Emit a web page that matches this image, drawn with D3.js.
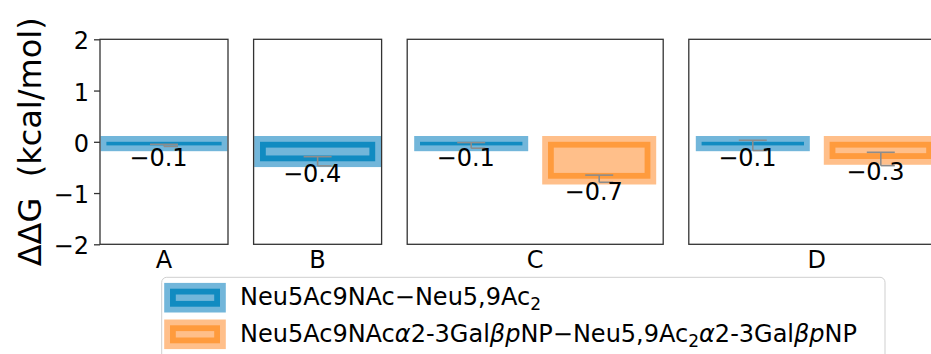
<html>
<head>
<meta charset="utf-8">
<style>
  body { margin: 0; background: white; }
  text { font-family: "DejaVu Sans", sans-serif; }
</style>
</head>
<body>
<script src="https://cdn.jsdelivr.net/npm/d3@7"></script>
<script>
// data
const panels = ["A", "B", "C", "D"]
const blueValues = [-0.07, -0.38, -0.07, -0.07]
const blueErrors = [0.02, 0.09, 0.055, 0.1]
const orangeValues = [null, null, -0.72, -0.335]
const orangeErrors = [null, null, 0.07, 0.13]
const yTicks = [-2, -1, 0, 1, 2]

const blue = {light: "#72b6da", dark: "#118bc1"}
const orange = {light: "#ffbf8a", dark: "#ff9b3d"}

const W = 931, H = 354
const svg = d3.select("body").append("svg").attr("width", W).attr("height", H)

const y = d3.scaleLinear().domain([-2, 2]).range([244.3, 39.3])
const unit = 128, gap = 25.6
const sw = 11.6 // thick bar edge

// bar = light outer edge, dark overlap, light inside
function drawBar(g, x0, x1, y0, y1, c) {
  const h = sw / 2, w = x1 - x0, ht = y1 - y0
  g.append("rect").attr("x", x0 - h).attr("y", y0 - h).attr("width", w + sw).attr("height", ht + sw).attr("fill", c.light)
  g.append("rect").attr("x", x0).attr("y", y0).attr("width", w).attr("height", ht).attr("fill", c.dark)
  if (w > sw && ht > sw) {
    g.append("rect").attr("x", x0 + h).attr("y", y0 + h).attr("width", w - sw).attr("height", ht - sw).attr("fill", c.light)
  }
}

function drawErr(g, cx, v, e) {
  const top = y(v + e), bot = y(v - e)
  g.append("line").attr("x1", cx).attr("x2", cx).attr("y1", top).attr("y2", bot)
  g.append("line").attr("x1", cx - 14).attr("x2", cx + 14).attr("y1", top).attr("y2", top)
  g.append("line").attr("x1", cx).attr("x2", cx + 14).attr("y1", bot).attr("y2", bot)
}

const fmt = d3.format(".1f")
let left = 100
panels.forEach(function(p, i) {
  const series = [{v: blueValues[i], e: blueErrors[i], c: blue}]
  if (orangeValues[i] !== null) series.push({v: orangeValues[i], e: orangeErrors[i], c: orange})
  const n = series.length
  const x = d3.scaleLinear().domain([-0.5, n - 0.5]).range([left, left + n * unit])
  const bw = n == 1 ? 0.9 : 0.8

  svg.append("clipPath").attr("id", "clip" + i).append("rect")
    .attr("x", left).attr("y", y(2)).attr("width", n * unit).attr("height", y(-2) - y(2))
  const g = svg.append("g").attr("clip-path", `url(#clip${i})`)

  series.forEach(function(s, j) {
    drawBar(g, x(j - bw / 2), x(j + bw / 2), y(0), y(s.v), s.c)
  })
  const eg = svg.append("g").attr("stroke", "#8c8c8c").attr("stroke-width", 1.6)
  series.forEach(function(s, j) { drawErr(eg, x(j), s.v, s.e) })

  // frame
  svg.append("rect").attr("x", left).attr("y", y(2)).attr("width", n * unit).attr("height", y(-2) - y(2))
    .attr("fill", "none").attr("stroke", "#333").attr("stroke-width", 1.3)

  series.forEach(function(s, j) {
    svg.append("text").attr("x", x(j) - 5.5).attr("y", y(s.v) + 21)
      .attr("text-anchor", "middle").attr("font-size", 24).attr("fill", "#000").text(fmt(s.v))
  })

  svg.append("text").attr("x", x((n - 1) / 2)).attr("y", 268)
    .attr("text-anchor", "middle").attr("font-size", 24).text(p)

  left += n * unit + gap
})

// y axis on the first panel
const yAxis = svg.append("g").attr("transform", "translate(100,0)")
  .call(d3.axisLeft(y).tickValues(yTicks).tickSize(6).tickPadding(5).tickFormat(d3.format("d")))
yAxis.select(".domain").remove()
yAxis.selectAll("line").attr("stroke", "#333").attr("stroke-width", 1.3)
yAxis.selectAll("text").attr("font-size", 24).attr("font-family", "DejaVu Sans").attr("fill", "#000").attr("dy", "0.4em")

svg.append("text").attr("transform", "translate(41,141.8) rotate(-90)")
  .attr("text-anchor", "middle").attr("font-size", 32).text("ΔΔG\u00a0\u00a0(kcal/mol)")

// legend
const lg = svg.append("g")
lg.append("rect").attr("x", 161.7).attr("y", 277.3).attr("width", 723.3).attr("height", 100).attr("rx", 5)
  .attr("fill", "white").attr("fill-opacity", 0.8).attr("stroke", "#cfcfcf").attr("stroke-width", 1)

const legendRows = [
  {c: blue, parts: [["Neu5Ac9NAc−Neu5,9Ac", ""], ["2", "sub"]]},
  {c: orange, parts: [["Neu5Ac9NAc", ""], ["α", "it"], ["2-3Gal", ""], ["βp", "it"], ["NP−Neu5,9Ac", ""], ["2", "sub"], ["α", "it"], ["2-3Gal", ""], ["βp", "it"], ["NP", ""]]}
]
legendRows.forEach(function(r, i) {
  const yy = 288.7 + i * 36.6
  drawBar(lg, 170, 220, yy, yy + 18, r.c)
  const t = lg.append("text").attr("x", 240).attr("y", 305 + i * 36.6).attr("font-size", 24)
  let sub = false
  r.parts.forEach(function(pt) {
    const ts = t.append("tspan").text(pt[0])
    if (pt[1] == "it") ts.attr("font-style", "italic")
    if (pt[1] == "sub") { ts.attr("font-size", 17).attr("dy", 5); sub = true }
    else if (sub) { ts.attr("dy", -5); sub = false }
  })
})
</script>
</body>
</html>
